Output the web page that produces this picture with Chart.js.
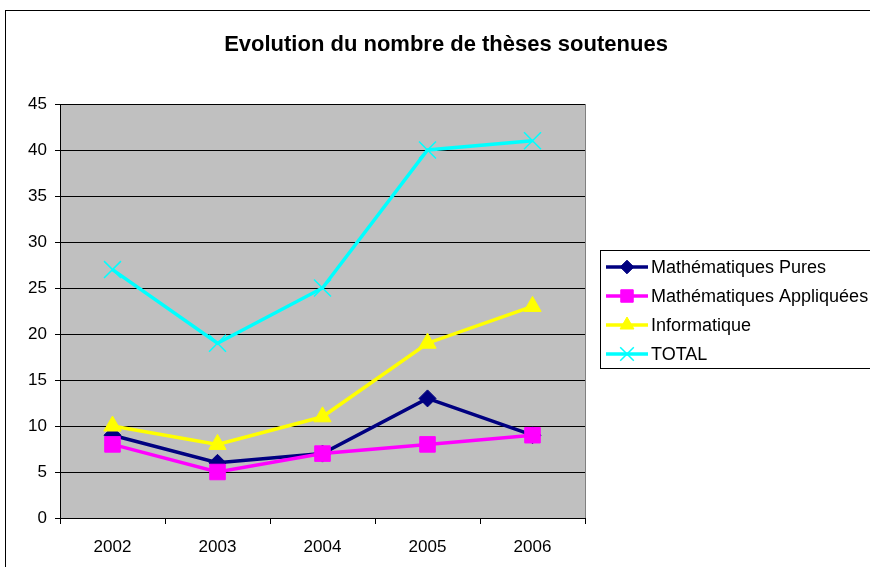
<!DOCTYPE html>
<html>
<head>
<meta charset="utf-8">
<script src="https://cdn.jsdelivr.net/npm/chart.js@4/dist/chart.umd.min.js"></script>
<style>
  body { margin: 0; background: #fff; }
  #wrap { width: 870px; height: 567px; }
</style>
</head>
<body>
<div id="wrap"><canvas id="chart" width="870" height="567"></canvas></div>
<script>
// Data
const years = ['2002', '2003', '2004', '2005', '2006'];
const mathPures = [9, 6, 7, 13, 9];
const mathAppliquees = [8, 5, 7, 8, 9];
const informatique = [10, 8, 11, 19, 23];
const total = [27, 19, 25, 40, 41];

const FONT = 'Arial, "Liberation Sans", sans-serif';

// Excel-like frame, title, plot background and legend
const excelLook = {
  id: 'excelLook',
  beforeDraw(chart) {
    const { ctx, chartArea: a } = chart;
    ctx.save();
    ctx.fillStyle = '#fff';
    ctx.fillRect(0, 0, chart.width, chart.height);
    ctx.strokeStyle = '#000';
    ctx.lineWidth = 1;
    ctx.strokeRect(5.5, 10.5, 900, 600);
    ctx.fillStyle = '#c0c0c0';
    ctx.fillRect(a.left, a.top, a.right - a.left, a.bottom - a.top);
    ctx.strokeStyle = '#808080';
    ctx.strokeRect(a.left + 0.5, a.top + 0.5, a.right - a.left, a.bottom - a.top);
    ctx.fillStyle = '#000';
    ctx.font = 'bold 22px ' + FONT;
    ctx.textAlign = 'center';
    ctx.textBaseline = 'middle';
    ctx.fillText('Evolution du nombre de thèses soutenues', 446, 45);
    ctx.restore();
  },
  afterDraw(chart) {
    const { ctx } = chart;
    ctx.save();
    ctx.fillStyle = '#fff';
    ctx.fillRect(600, 250, 280, 118);
    ctx.strokeStyle = '#000';
    ctx.lineWidth = 1;
    ctx.strokeRect(600.5, 250.5, 280, 118);
    ctx.font = '18px ' + FONT;
    ctx.textBaseline = 'middle';
    ctx.textAlign = 'left';
    chart.data.datasets.forEach((ds, i) => {
      const y = 267 + i * 29;
      ctx.strokeStyle = ds.borderColor;
      ctx.lineWidth = 3.5;
      ctx.beginPath();
      ctx.moveTo(606, y);
      ctx.lineTo(648, y);
      ctx.stroke();
      ctx.fillStyle = ds.pointBackgroundColor;
      ctx.strokeStyle = ds.pointBorderColor;
      ctx.lineWidth = ds.pointBorderWidth;
      Chart.helpers.drawPoint(ctx, {
        pointStyle: ds.pointStyle,
        radius: ds.pointRadius * 0.8,
        borderWidth: ds.pointBorderWidth
      }, 627, y);
      ctx.fillStyle = '#000';
      ctx.fillText(ds.label, 651, y + 1);
    });
    ctx.restore();
  }
};

// later series sit on top, like in the original (lower order = drawn last)
function series(label, data, color, style, radius, bw, order) {
  return {
    label, data, order,
    borderColor: color,
    backgroundColor: color,
    borderWidth: 3.5,
    pointStyle: style,
    pointRadius: radius,
    pointHoverRadius: radius,
    pointBackgroundColor: color,
    pointBorderColor: color,
    pointBorderWidth: bw,
    tension: 0
  };
}

new Chart(document.getElementById('chart'), {
  type: 'line',
  data: {
    labels: years,
    datasets: [
      series('Mathématiques Pures', mathPures, '#000080', 'rectRot', 8.5, 1, 3),
      series('Mathématiques Appliquées', mathAppliquees, '#ff00ff', 'rect', 11, 1, 2),
      series('Informatique', informatique, '#ffff00', 'triangle', 10, 1, 1),
      series('TOTAL', total, '#00ffff', 'crossRot', 12, 1.5, 0)
    ]
  },
  plugins: [excelLook],
  options: {
    responsive: false,
    animation: false,
    layout: { padding: { left: 0, top: 104, right: 285, bottom: 0 } },
    plugins: { legend: { display: false }, title: { display: false }, tooltip: { enabled: false } },
    scales: {
      x: {
        offset: true,
        afterFit(s) { s.height = 49; },
        grid: { offset: true, drawOnChartArea: false, color: '#000', tickLength: 6 },
        border: { color: '#000' },
        ticks: { color: '#000', font: { family: FONT, size: 17 }, padding: 13 }
      },
      y: {
        min: 0, max: 45,
        afterFit(s) { s.width = 60; },
        grid: { color: '#000', tickLength: 5 },
        border: { color: '#000' },
        ticks: { stepSize: 5, color: '#000', font: { family: FONT, size: 17 }, padding: 8 }
      }
    }
  }
});
</script>
</body>
</html>
